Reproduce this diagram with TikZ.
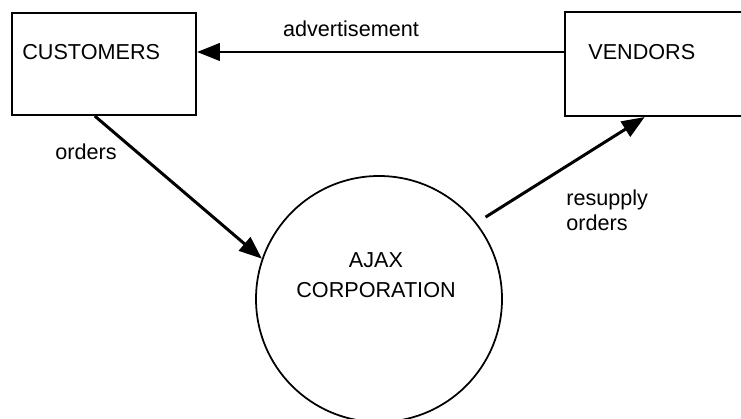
\documentclass[tikz,border=0pt]{standalone}
\usepackage{fontspec}
\setmainfont{Liberation Sans}
\usetikzlibrary{arrows.meta}

\begin{document}
\begin{tikzpicture}[
        every node/.style={font=\fontsize{12.3}{14.2}\selectfont, inner sep=0pt},
        entity/.style={draw=black, line width=1.2pt, rectangle, minimum width=3.68cm, minimum height=2.04cm},
        process/.style={draw=black, line width=1pt, circle, minimum size=4.92cm},
        flow/.style={line width=1.7pt, -{Triangle[length=13pt, width=10pt]}}
    ]
        \clip (0,0) rectangle (14.82,8.38);

        % Entidades externas
        \node[entity] (cust) at (2.08,7.1) {};
        \node[anchor=west] (custlbl) at (0.44,7.34) {CUSTOMERS};
        \node[entity, minimum width=3.6cm, minimum height=2.08cm] (vend) at (13.1,7.1) {};
        \node[anchor=west] (vendlbl) at (11.76,7.34) {VENDORS};

        % Proceso
        \node[process] (corp) at (7.58,2.4) {};
        \node[align=center, font=\fontsize{12.3}{17}\selectfont] (corplbl) at (7.52,2.88) {AJAX\\CORPORATION};

        % Flujos
        \draw[flow, line width=1.3pt] (vend.west |- vendlbl) -- (cust.east |- custlbl);
        \draw[flow] (cust.260) -- (corp.161);
        \draw[flow, shorten <=6pt] (corp.38) -- (vend.259);

        % Textos
        \node (adv) at (7.02,7.8) {advertisement};
        \node (ord) at (1.72,5.34) {orders};
        \node[anchor=west, align=left] (resup) at (11.32,4.18) {resupply\\orders};

    \end{tikzpicture}
\end{document}
